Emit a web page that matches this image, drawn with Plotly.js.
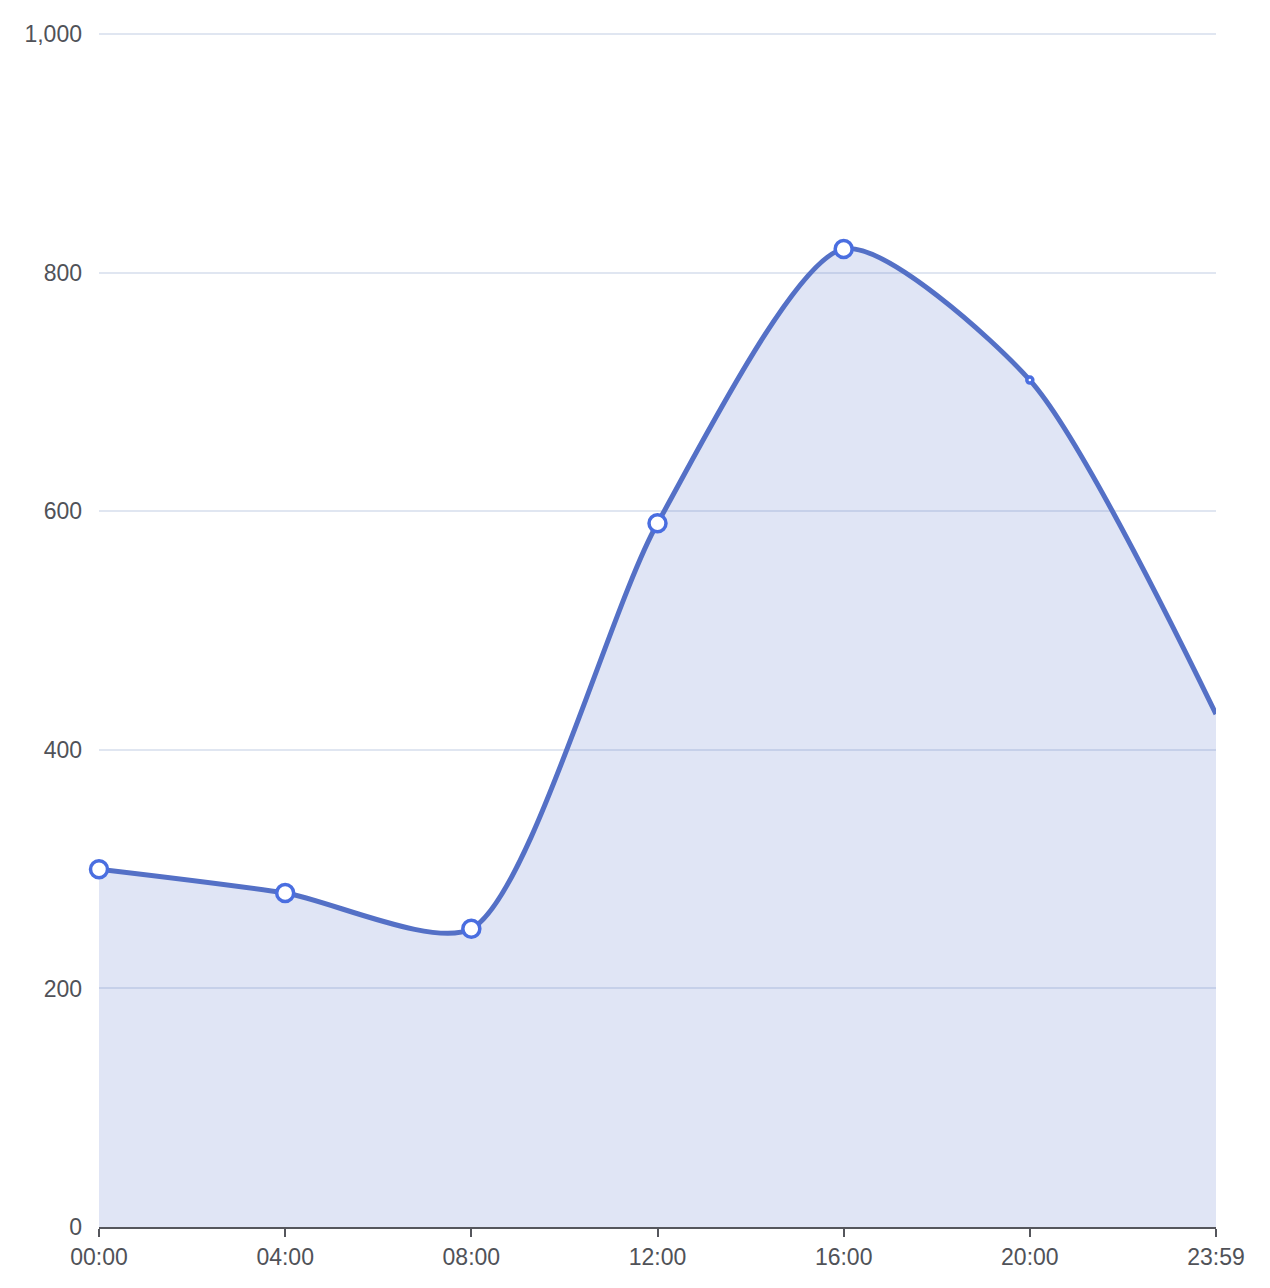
<!DOCTYPE html>
<html>
<head>
<meta charset="utf-8">
<script src="https://cdn.plot.ly/plotly-3.0.1.min.js"></script>
<style>
  html, body { margin: 0; padding: 0; background: #fff; }
  #chart { width: 1270px; height: 1288px; }
</style>
</head>
<body>
<div id="chart"></div>
<script>
// hours of the day on the category axis
var hours = ['00:00', '04:00', '08:00', '12:00', '16:00', '20:00', '23:59'];
var values = [300, 280, 250, 590, 820, 710, 430];
var markerSizes = [17, 17, 17, 17, 17, 6, 0];
var yTicks = [0, 200, 400, 600, 800, 1000];

var area = {
  x: hours,
  y: values,
  type: 'scatter',
  mode: 'lines+markers',
  fill: 'tozeroy',
  fillcolor: 'rgba(84,112,198,0.18)',
  cliponaxis: false,
  line: { color: '#5470c6', width: 5, shape: 'spline', smoothing: 0.7 },
  marker: {
    size: markerSizes,
    color: '#ffffff',
    opacity: 1,
    line: { color: '#4a6ee0', width: 3.5 }
  },
  hoverinfo: 'x+y'
};

var layout = {
  width: 1270,
  height: 1288,
  margin: { l: 99, r: 54, t: 33, b: 61 },
  paper_bgcolor: '#ffffff',
  plot_bgcolor: '#ffffff',
  showlegend: false,
  font: { family: 'Liberation Sans, Arial, sans-serif', size: 23, color: '#505258' },
  xaxis: {
    type: 'category',
    range: [0, 6],
    showgrid: false,
    zeroline: false,
    showline: true,
    linecolor: '#55565c',
    linewidth: 2,
    ticks: 'outside',
    ticklen: 8,
    tickwidth: 2,
    tickcolor: '#55565c',
    tickfont: { size: 23, color: '#505258' }
  },
  yaxis: {
    range: [0, 1001],
    tickvals: yTicks,
    tickformat: ',',
    showgrid: true,
    gridcolor: '#e0e6f1',
    gridwidth: 2,
    zeroline: false,
    showline: false,
    ticks: '',
    ticklabelstandoff: 16,
    tickfont: { size: 23, color: '#505258' }
  }
};

Plotly.newPlot('chart', [area], layout, { displayModeBar: false, staticPlot: true });
</script>
</body>
</html>
